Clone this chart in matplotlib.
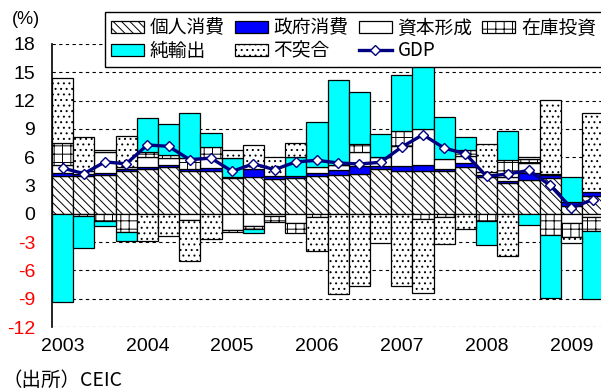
import numpy as np
import matplotlib
matplotlib.use("Agg")
import matplotlib.pyplot as plt
from matplotlib import font_manager

# Contributions to real GDP growth (y/y, %), 2003Q1 - 2009Q2
years = ["2003", "2004", "2005", "2006", "2007", "2008", "2009"]

private_consumption = [4.0, 4.0, 4.1, 4.5, 4.7, 5.0, 4.5, 4.5, 3.8, 3.95, 3.7, 3.8, 4.0,
                       4.15, 4.25, 4.75, 4.5, 4.5, 4.5, 5.0, 3.95, 3.25, 3.6, 3.8, 0.8, 1.9]
government_consumption = [0.3, 0.2, 0.2, 0.2, 0.3, 0.2, 0.2, 0.4, 0.1, 0.8, 0.3, 0.2, 0.3,
                          0.5, 0.8, 0.35, 0.55, 0.7, 0.2, 0.35, 0.2, 0.2, 0.7, 0.3, 0.5, 0.45]
capital_formation = [0.9, 0.3, 2.2, 0.3, 1.0, 0.7, -0.7, 1.0, -1.7, -1.3, -0.25, -1.0, 0.7,
                     0.5, 1.5, 0.9, 2.1, 3.8, 1.1, 0.8, 0.3, 0.5, 1.05, 0.1, -1.0, -0.3]
inventories = [2.3, -0.2, -0.8, -1.9, 0.5, 0.3, 1.2, 1.2, -0.2, -0.35, -0.6, -1.0, -0.3,
               0.0, 0.85, 0.0, 1.6, -0.6, -0.35, 0.6, -0.8, 1.8, 0.42, -2.2, -1.5, -1.5]
net_exports = [-9.4, -3.4, -0.5, -1.0, 3.65, 3.3, 4.8, 1.45, 2.0, -0.35, 0.0, 2.0, 4.75,
               9.0, 5.55, 2.5, 6.0, 7.8, 4.45, 1.4, -2.5, 3.0, -1.15, -6.7, 2.6, -7.2]
discrepancy = [6.9, 3.65, 0.3, 3.2, -2.9, -2.4, -4.3, -2.7, 0.9, 2.5, 2.0, 1.55, -3.65,
               -8.55, -7.7, -3.1, -7.7, -7.8, -2.9, -1.65, 3.0, -4.5, 0.2, 7.85, -0.55, 8.3]
gdp = [4.86, 4.25, 5.5, 5.3, 7.3, 7.15, 5.74, 5.9, 4.5, 5.3, 4.68, 5.5, 5.67,
       5.39, 5.28, 5.46, 7.08, 8.39, 6.97, 6.37, 3.97, 4.22, 4.6, 3.02, 0.62, 1.5]

names = ["個人消費", "政府消費", "資本形成", "在庫投資", "純輸出", "不突合"]

available = {f.name for f in font_manager.fontManager.ttflist}
num_font = "Liberation Sans Narrow" if "Liberation Sans Narrow" in available else "Liberation Sans"
jp_font = "Noto Sans CJK JP"

plt.rcParams["font.family"] = [jp_font, "DejaVu Sans"]
plt.rcParams["hatch.linewidth"] = 0.7

W, H = 601, 389
fig = plt.figure(figsize=(W / 100, H / 100), dpi=100)
ax = fig.add_axes([52 / W, 62 / H, 1 - 52 / W, (327 - 44) / H])

x = np.arange(len(gdp))
styles = [
    ("white", "\\\\\\\\"),
    ("#0000FF", None),
    ("white", None),
    ("white", "++"),
    ("#00FFFF", None),
    ("white", "..."),
]
series = [private_consumption, government_consumption, capital_formation,
          inventories, net_exports, discrepancy]

pos_base = np.zeros(len(x))
neg_base = np.zeros(len(x))
bars = []
for name, vals, (face, hatch) in zip(names, series, styles):
    v = np.asarray(vals, dtype=float)
    bottom = np.where(v >= 0, pos_base, neg_base)
    b = ax.bar(x, v, width=1.0, bottom=bottom, color=face, hatch=hatch,
               edgecolor="black", linewidth=0.9, label=name, zorder=2)
    bars.append(b)
    pos_base = pos_base + np.where(v > 0, v, 0)
    neg_base = neg_base + np.where(v < 0, v, 0)

line, = ax.plot(x, gdp, color="#000080", lw=2.4, marker="D", ms=5.5,
                mfc="white", mec="#000080", mew=1.0, label="GDP", zorder=5)

ax.set_xlim(-0.5, 25.4)
ax.set_ylim(-12, 18)
yt = list(range(-12, 19, 3))
ax.set_yticks(yt)
ax.set_yticklabels([str(t) for t in yt], fontfamily=num_font, fontsize=14)
for lab, t in zip(ax.get_yticklabels(), yt):
    lab.set_color("red" if t < 0 else "black")
ax.set_xticks(range(0, 26, 4))
ax.set_xticklabels(years, fontfamily=num_font, fontsize=14)
ax.tick_params(axis="y", length=0, pad=12)
ax.tick_params(axis="x", length=0, pad=8)

for s in ("top", "right", "bottom"):
    ax.spines[s].set_visible(False)
ax.spines["left"].set_linewidth(1.2)
ax.spines["left"].set_color("black")
ax.yaxis.grid(True, linestyle=(0, (3, 3)), color="black", linewidth=0.8)
ax.set_axisbelow(True)

handles = [bars[0], bars[4], bars[1], bars[5], bars[2], line, bars[3]]
labels = [names[0], names[4], names[1], names[5], names[2], "GDP", names[3]]
leg = fig.legend(handles, labels, ncol=4, loc="upper left",
                 bbox_to_anchor=(105 / W, 1 - 12 / H), bbox_transform=fig.transFigure,
                 frameon=True, fancybox=False, framealpha=1, edgecolor="black",
                 borderaxespad=0, prop={"family": [jp_font], "size": 13.5},
                 handlelength=1.76, handleheight=0.55, handletextpad=0.32,
                 columnspacing=0.53, borderpad=0.3, labelspacing=0.1)
leg.get_frame().set_linewidth(1.0)

fig.text(12 / W, 1 - 20 / H, "(%)", fontfamily=num_font, fontsize=13, va="center", ha="left")
fig.text(3 / W, 1 - 380 / H, "（出所）CEIC", fontsize=14, va="center", ha="left")

fig.savefig("out.png", dpi=100)
